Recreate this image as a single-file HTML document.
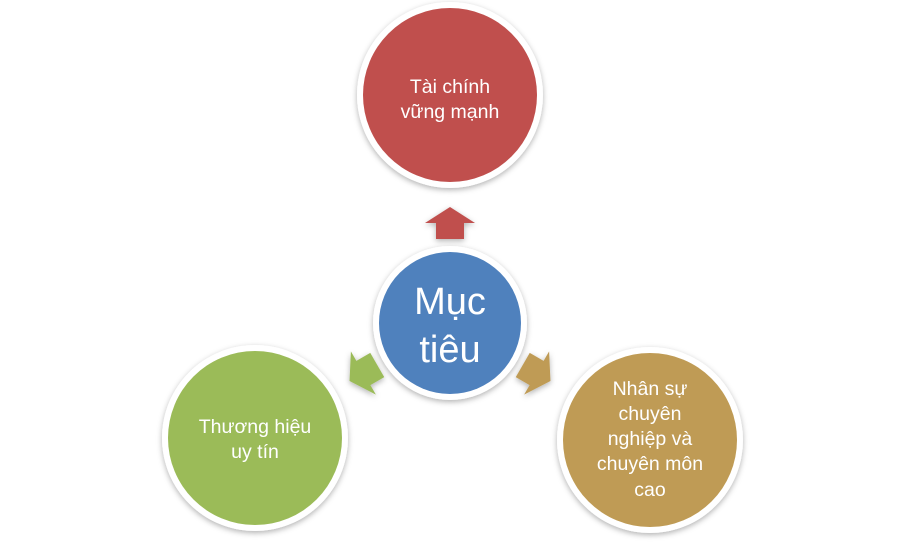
<!DOCTYPE html>
<html><head><meta charset="utf-8"><style>
html,body{margin:0;padding:0;background:#fff;width:900px;height:545px;overflow:hidden}
svg{display:block}
text{font-family:"Liberation Sans","DejaVu Sans",sans-serif;fill:#fff;text-anchor:middle}
</style></head><body>
<svg width="900" height="545" viewBox="0 0 900 545">
<defs>
<filter id="sh" x="-20%" y="-20%" width="140%" height="140%">
<feDropShadow dx="0" dy="2" stdDeviation="3" flood-color="#000" flood-opacity="0.3"/>
</filter>
</defs>
<g filter="url(#sh)">
<circle cx="450" cy="95" r="93" fill="#fff"/>
<circle cx="450" cy="95" r="87" fill="#c0504d"/>
<circle cx="255" cy="438" r="93" fill="#fff"/>
<circle cx="255" cy="438" r="87" fill="#9bbb59"/>
<circle cx="650" cy="440" r="93" fill="#fff"/>
<circle cx="650" cy="440" r="87" fill="#bf9b54"/>
<circle cx="450" cy="323" r="77" fill="#fff"/>
<circle cx="450" cy="323" r="71" fill="#4f81bd"/>
<polygon points="450,207 475,223 464,223 464,239 436,239 436,223 425,223" fill="#c0504d"/>
<polygon transform="rotate(120 450 323)" points="450,207 475,223 464,223 464,239 436,239 436,223 425,223" fill="#bf9b54"/>
<polygon transform="rotate(-120 450 323)" points="450,207 475,223 464,223 464,239 436,239 436,223 425,223" fill="#9bbb59"/>
</g>
<text x="450" y="93" font-size="19.5">Tài chính</text>
<text x="450" y="118" font-size="19.5">vững mạnh</text>
<text x="450" y="314" font-size="38">Mục</text>
<text x="450" y="362" font-size="38">tiêu</text>
<text x="255" y="433" font-size="19.5">Thương hiệu</text>
<text x="255" y="458" font-size="19.5">uy tín</text>
<text x="650" y="395" font-size="19.5">Nhân sự</text>
<text x="650" y="420" font-size="19.5">chuyên</text>
<text x="650" y="445" font-size="19.5">nghiệp và</text>
<text x="650" y="470" font-size="19.5">chuyên môn</text>
<text x="650" y="496" font-size="19.5">cao</text>
</svg>
</body></html>
